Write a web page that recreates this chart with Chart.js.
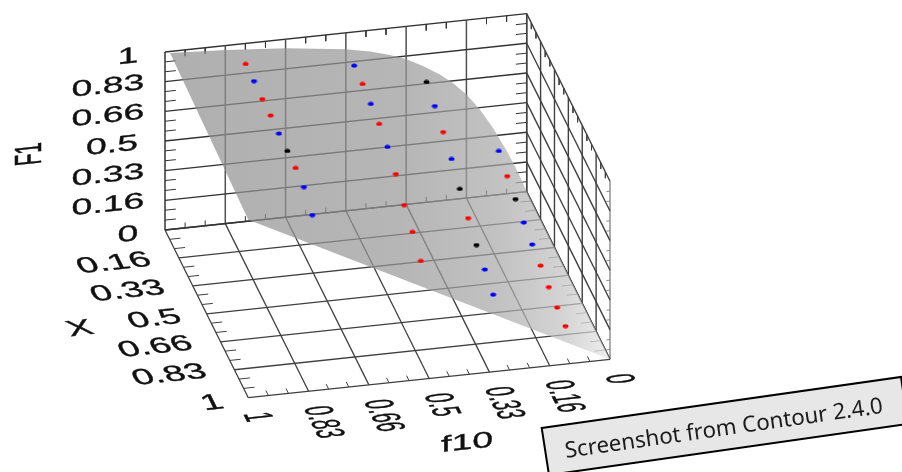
<!DOCTYPE html>
<html>
<head>
<meta charset="utf-8">
<title>F1 surface</title>
<script src="https://cdn.jsdelivr.net/npm/chart.js@4/dist/chart.umd.min.js"></script>
<style>
  html, body { margin: 0; padding: 0; background: #fff; }
  canvas { display: block; filter: blur(0.4px); }
</style>
</head>
<body>
<canvas id="surfaceChart" width="902" height="472"></canvas>
<script>
// ===== data =====
const tickLabels = ['0', '0.16', '0.33', '0.5', '0.66', '0.83', '1'];
const majorSteps = [0, 1 / 6, 2 / 6, 3 / 6, 4 / 6, 5 / 6, 1];

const conversions = [0.1, 0.2, 0.3, 0.4, 0.5, 0.6, 0.7, 0.8, 0.9];
const feeds = [0.8, 0.5, 0.3, 0.1];
const f1Feed80 = [0.984, 0.982, 0.975, 0.977, 0.970, 0.966, 0.965, 0.952, 0.889];
const f1Feed50 = [0.910, 0.901, 0.883, 0.865, 0.830, 0.772, 0.692, 0.635, 0.566];
const f1Feed30 = [0.775, 0.734, 0.682, 0.625, 0.551, 0.481, 0.424, 0.381, 0.334];
const f1Feed10 = [0.344, 0.297, 0.262, 0.225, 0.196, 0.171, 0.145, 0.124, 0.114];
const colorsFeed80 = ['r', 'b', 'r', 'r', 'b', 'k', 'r', 'b', 'b'];
const colorsFeed50 = ['b', 'r', 'b', 'r', 'b', 'r', 'r', 'r', 'r'];
const colorsFeed30 = ['k', 'b', 'r', 'b', 'k', 'r', 'k', 'b', 'b'];
const colorsFeed10 = ['b', 'r', 'k', 'b', 'b', 'r', 'r', 'r', 'r'];

// rim of the surface at X = 0
const rimFeed = [0.986, 0.833, 0.667, 0.5, 0.433, 0.378, 0.334, 0.287, 0.24, 0.204, 0.165, 0.129, 0.093, 0.055, 0.027, 0];
const rimF1 = [0.992, 0.975, 0.949, 0.907, 0.88, 0.849, 0.817, 0.767, 0.71, 0.654, 0.578, 0.487, 0.378, 0.24, 0.127, 0];

const dotColors = { r: '#ff0000', b: '#0000ff', k: '#000000' };

// ===== parallel projection of (f10, X, F1) on to the page =====
const origin = [165, 230];
const feedAxis = [361.7, -38.4];
const convAxis = [83.3, 167.7];
const f1Axis = [0, -178];

function project(f10, conv, f1) {
  const d = 1 - f10;
  return {
    x: origin[0] + d * feedAxis[0] + conv * convAxis[0] + f1 * f1Axis[0],
    y: origin[1] + d * feedAxis[1] + conv * convAxis[1] + f1 * f1Axis[1]
  };
}

// ===== grid and ticks =====
const datasets = [];

function addLine(a, b, color, width, order) {
  datasets.push({
    type: 'scatter',
    data: [project(a[0], a[1], a[2]), project(b[0], b[1], b[2])],
    showLine: true,
    borderColor: color,
    borderWidth: width,
    pointRadius: 0,
    order: order
  });
}

const backColor = '#333333';
const sideColor = '#404040';
const floorColor = '#404040';

majorSteps.forEach(s => {
  // back wall
  addLine([1, 0, s], [0, 0, s], backColor, 1.4, 5);
  addLine([1 - s, 0, 0], [1 - s, 0, 1], s === 0 || s === 1 ? backColor : '#505050', 1.5, 5);
  // floor
  addLine([1, s, 0], [0, s, 0], floorColor, 1.3, 5);
  addLine([1 - s, 0, 0], [1 - s, 1, 0], floorColor, 1.3, 5);
  // right wall
  addLine([0, 0, s], [0, 1, s], sideColor, 1.4, 5);
  addLine([0, s, 0], [0, s, 1], s === 1 ? '#8a8a8a' : sideColor, 1.4, 5);
});

for (let i = 1; i < 18; i++) {
  if (i % 3 === 0) continue;
  const s = i / 18;
  addLine([1, 0, s], [0.97, 0, s], backColor, 1, 5);
  addLine([0, 0, s], [0.03, 0, s], backColor, 1, 5);
  addLine([s, 0, 1], [s, 0, 0.965], backColor, 1, 5);
  addLine([s, 0, 0], [s, 0, 0.03], backColor, 1, 5);
  addLine([1, s, 0], [0.97, s, 0], floorColor, 1, 5);
  addLine([0, s, 0], [0.03, s, 0], '#777', 1, 5);
  addLine([s, 1, 0], [s, 0.97, 0], floorColor, 1, 5);
  addLine([0, s, 1], [0, s, 0.965], sideColor, 1, 5);
  addLine([0, 1, s], [0.01, 1, s], '#8a8a8a', 1, 5);
}

// ===== surface =====
const outline = rimFeed.map((f, i) => project(f, 0, rimF1[i]));
outline.push(project(0, 1, 0));
outline.push(project(1, 1, 1));

datasets.push({
  type: 'scatter',
  data: outline,
  showLine: true,
  borderWidth: 0,
  pointRadius: 0,
  fill: 'shape',
  order: 3,
  backgroundColor: function (context) {
    const { ctx, chartArea, scales } = context.chart;
    if (!chartArea) return 'rgba(144,144,144,0.71)';
    const g = ctx.createLinearGradient(scales.x.getPixelForValue(165), 0, scales.x.getPixelForValue(612), 0);
    g.addColorStop(0, 'rgba(143,143,143,0.71)');
    g.addColorStop(0.53, 'rgba(152,152,152,0.71)');
    g.addColorStop(0.75, 'rgba(169,169,169,0.71)');
    g.addColorStop(0.89, 'rgba(194,194,194,0.71)');
    g.addColorStop(1, 'rgba(232,232,232,0.71)');
    return g;
  }
});

// ===== dots =====
function dotImage(color) {
  const c = document.createElement('canvas');
  c.width = 7;
  c.height = 5;
  const g = c.getContext('2d');
  g.fillStyle = color;
  g.beginPath();
  g.ellipse(3.5, 2.5, 2.9, 2.1, 0, 0, 2 * Math.PI);
  g.fill();
  return c;
}
const dotImages = { r: dotImage(dotColors.r), b: dotImage(dotColors.b), k: dotImage(dotColors.k) };

[[f1Feed80, colorsFeed80], [f1Feed50, colorsFeed50], [f1Feed30, colorsFeed30], [f1Feed10, colorsFeed10]].forEach((col, c) => {
  datasets.push({
    type: 'scatter',
    data: conversions.map((x, i) => project(feeds[c], x, col[0][i])),
    pointStyle: col[1].map(k => dotImages[k]),
    pointRadius: 3,
    order: 1
  });
});

// ===== sheared axis text =====
function shearText(ctx, str, x, y, m, align) {
  ctx.save();
  ctx.transform(m[0], m[1], m[2], m[3], x, y);
  ctx.font = '20px "Liberation Sans"';
  ctx.textAlign = align;
  ctx.textBaseline = 'middle';
  ctx.fillStyle = '#111';
  ctx.strokeStyle = '#111';
  ctx.lineWidth = 0.3;
  ctx.fillText(str, 0, 0);
  ctx.strokeText(str, 0, 0);
  ctx.restore();
}

const wallText = [1.87, -0.198, 0, 1.12];
const floorText = [1.87, -0.198, 0.53, 1.07];
const feedText = [0.4, 0.81, -1.95, 0.206];
const sideTitle = [0, -0.95, 1.89, -0.2];

const axisText = {
  id: 'axisText',
  afterDatasetsDraw(chart) {
    const { ctx, scales } = chart;
    const px = p => ({ x: scales.x.getPixelForValue(p.x), y: scales.y.getPixelForValue(p.y) });
    const wallShift = { 1: -37, 3: -53, 4: -57 };
    const floorShift = { 1: -36, 3: -52, 4: -65 };

    majorSteps.forEach((s, i) => {
      const label = tickLabels[i];
      const z = px(project(1, 0, s));
      shearText(ctx, label, z.x + wallShift[label.length], z.y + 5, wallText, 'center');
      if (i > 0) {
        const c = px(project(1, s, 0));
        shearText(ctx, label, c.x + floorShift[label.length], c.y + 5.5, floorText, 'center');
      }
      const f = px(project(s, 1, 0));
      shearText(ctx, label, f.x + 5.7, f.y + 15, feedText, 'left');
    });

    shearText(ctx, 'F1', 31, 154, sideTitle, 'center');
    shearText(ctx, 'X', 80, 329, floorText, 'center');
    shearText(ctx, 'f10', 467, 443, wallText, 'center');

    // caption box
    ctx.save();
    ctx.beginPath();
    ctx.moveTo(541.7, 428);
    ctx.lineTo(901, 377);
    ctx.lineTo(908, 424);
    ctx.lineTo(549, 475);
    ctx.closePath();
    ctx.fillStyle = '#e7e7e7';
    ctx.fill();
    ctx.strokeStyle = '#000';
    ctx.lineWidth = 2;
    ctx.stroke();
    ctx.translate(566, 458);
    ctx.rotate(-0.1415);
    ctx.font = '22.3px "Noto Sans"';
    ctx.fillStyle = '#1c1c1c';
    ctx.textAlign = 'left';
    ctx.textBaseline = 'alphabetic';
    ctx.fillText('Screenshot from Contour 2.4.0', 0, 0);
    ctx.restore();
  }
};

const surfaceChart = new Chart(document.getElementById('surfaceChart').getContext('2d'), {
  data: { datasets: datasets },
  options: {
    responsive: false,
    animation: false,
    layout: { padding: 0, autoPadding: false },
    plugins: {
      legend: { display: false },
      tooltip: { enabled: false }
    },
    scales: {
      x: { type: 'linear', min: 0, max: 902, display: false },
      y: { type: 'linear', min: 0, max: 472, reverse: true, display: false }
    }
  },
  plugins: [axisText]
});
</script>
</body>
</html>
